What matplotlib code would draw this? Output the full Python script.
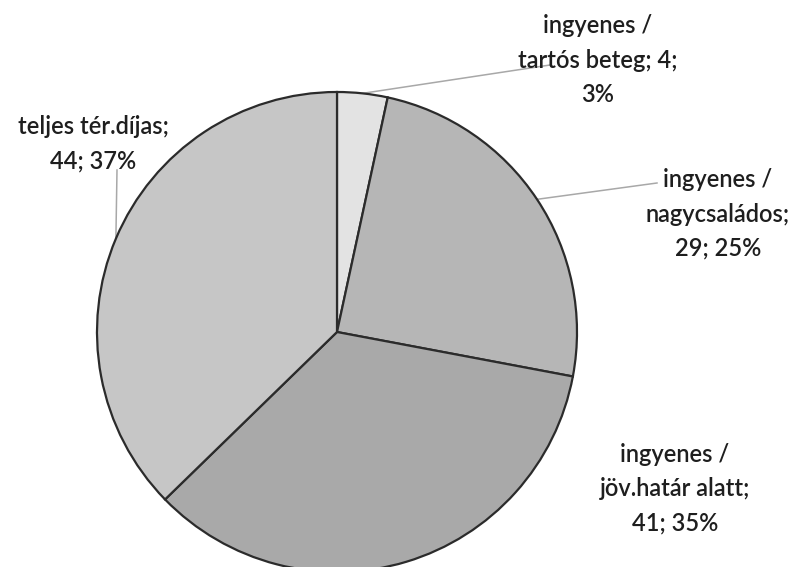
import numpy as np
import matplotlib.pyplot as plt

# 'Calibri'-szerű betű helyett Lato
plt.rcParams['font.family'] = ['Lato', 'DejaVu Sans']

labels = ['ingyenes /\ntartós beteg; 4;\n3%',
          'ingyenes /\nnagycsaládos;\n29; 25%',
          'ingyenes /\njöv.határ alatt;\n41; 35%',
          'teljes tér.díjas;\n44; 37%']
values = [4, 29, 41, 44]
colors = ['#e3e3e3', '#b6b6b6', '#a9a9a9', '#c6c6c6']

# címkék helye (pixel) és a vezetővonal vége
label_pos = [(598, 60), (718, 214), (675, 489), (93, 144)]
leader_end = [(550, 65), (657, 183), None, (117, 170)]

fig = plt.figure(figsize=(8.03, 5.67), dpi=100)
ax = fig.add_axes([0, 0, 1, 1])

cx, cy, r = 337, 332, 240
# invertált y tengely: felülről indul, a képernyőn óramutató szerint halad
wedges, _ = ax.pie(values, colors=colors, startangle=-90, counterclock=True,
                   center=(cx, cy), radius=r, frame=True,
                   wedgeprops=dict(edgecolor='#2b2b2b', linewidth=1.6))
ax.set_xlim(0, 803)
ax.set_ylim(567, 0)
ax.set_aspect('equal')
ax.axis('off')

for w, lab, pos, end in zip(wedges, labels, label_pos, leader_end):
    ang = np.deg2rad((w.theta1 + w.theta2) / 2)
    if end is not None:
        sx = cx + r * np.cos(ang)
        sy = cy + r * np.sin(ang)
        ax.plot([sx, end[0]], [sy, end[1]], color='#a8a8a8', lw=1.1, zorder=0)
    ax.text(pos[0], pos[1], lab, ha='center', va='center', fontsize=17,
            fontweight='semibold', color='#1e1e1e', linespacing=1.6)

plt.savefig('out.png', dpi=100)
